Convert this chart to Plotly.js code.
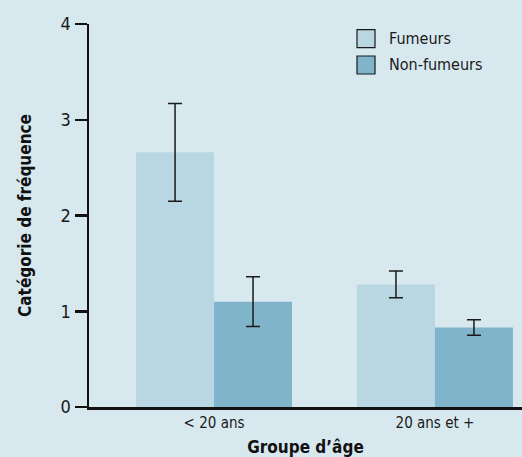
<!DOCTYPE html>
<html><head><meta charset="utf-8">
<script src="https://cdn.plot.ly/plotly-3.0.1.min.js"></script>
<style>html,body{margin:0;padding:0;background:#d8e8ef;}#chart{width:522px;height:457px;}</style>
</head><body><div id="chart"></div>
<script>
var categories = ["< 20 ans", "20 ans et +"];
var seriesNames = ["Fumeurs", "Non-fumeurs"];
var fumeurs = [2.66, 1.28];
var fumeursErr = [0.51, 0.14];
var nonFumeurs = [1.10, 0.83];
var nonFumeursErr = [0.26, 0.08];
var yTicks = [0, 1, 2, 3, 4];

var FONT = "'Liberation Sans Narrow', 'DejaVu Sans Condensed', 'Roboto Condensed', sans-serif";
var colors = ["#b9d7e2", "#7fb4ca"];

var traces = [
  {type: "bar", name: seriesNames[0], x: categories, y: fumeurs,
   marker: {color: colors[0]},
   error_y: {type: "data", array: fumeursErr, visible: true, color: "#1a1a1a", thickness: 1.5, width: 7}},
  {type: "bar", name: seriesNames[1], x: categories, y: nonFumeurs,
   marker: {color: colors[1]},
   error_y: {type: "data", array: nonFumeursErr, visible: true, color: "#1a1a1a", thickness: 1.5, width: 7}}
];

var shapes = [], annotations = [];
seriesNames.forEach(function(n, i){
  var yc = 0.962 - i * 0.069;
  shapes.push({type: "rect", xref: "paper", yref: "paper",
    x0: (357-89)/433, x1: (375-89)/433, y0: yc - 9/383, y1: yc + 9/383,
    fillcolor: colors[i], line: {color: "#1a1a1a", width: 1.2}});
  annotations.push({xref: "paper", yref: "paper", x: (387-89)/433, y: yc,
    xanchor: "left", yanchor: "middle", showarrow: false, text: n,
    font: {family: FONT, size: 16, color: "#1a1a1a"}});
});

var layout = {
  width: 522, height: 457,
  margin: {l: 89, r: 0, t: 24, b: 50},
  paper_bgcolor: "#d8e8ef", plot_bgcolor: "#d8e8ef",
  barmode: "group", bargap: 0.294, bargroupgap: 0,
  showlegend: false,
  font: {family: FONT, color: "#1a1a1a"},
  xaxis: {type: "category", range: [-0.566, 1.394], showline: true, linecolor: "#111", linewidth: 2.5,
    ticks: "", showgrid: false, zeroline: false, tickfont: {family: FONT, size: 15, color: "#1a1a1a"},
    title: {text: "<b>Groupe d’âge</b>", font: {family: FONT, size: 17, color: "#111"}, standoff: 13}},
  yaxis: {range: [0, 4], tickvals: yTicks, showline: true, linecolor: "#111", linewidth: 2.5,
    ticks: "outside", ticklen: 12, tickwidth: 2.5, tickcolor: "#111", showgrid: false, zeroline: false,
    tickfont: {family: FONT, size: 18, color: "#1a1a1a"},
    title: {text: "<b>Catégorie de fréquence</b>", font: {family: FONT, size: 17, color: "#111"}, standoff: 25}},
  shapes: shapes, annotations: annotations
};
Plotly.newPlot("chart", traces, layout, {displayModeBar: false, staticPlot: true});
</script></body></html>
